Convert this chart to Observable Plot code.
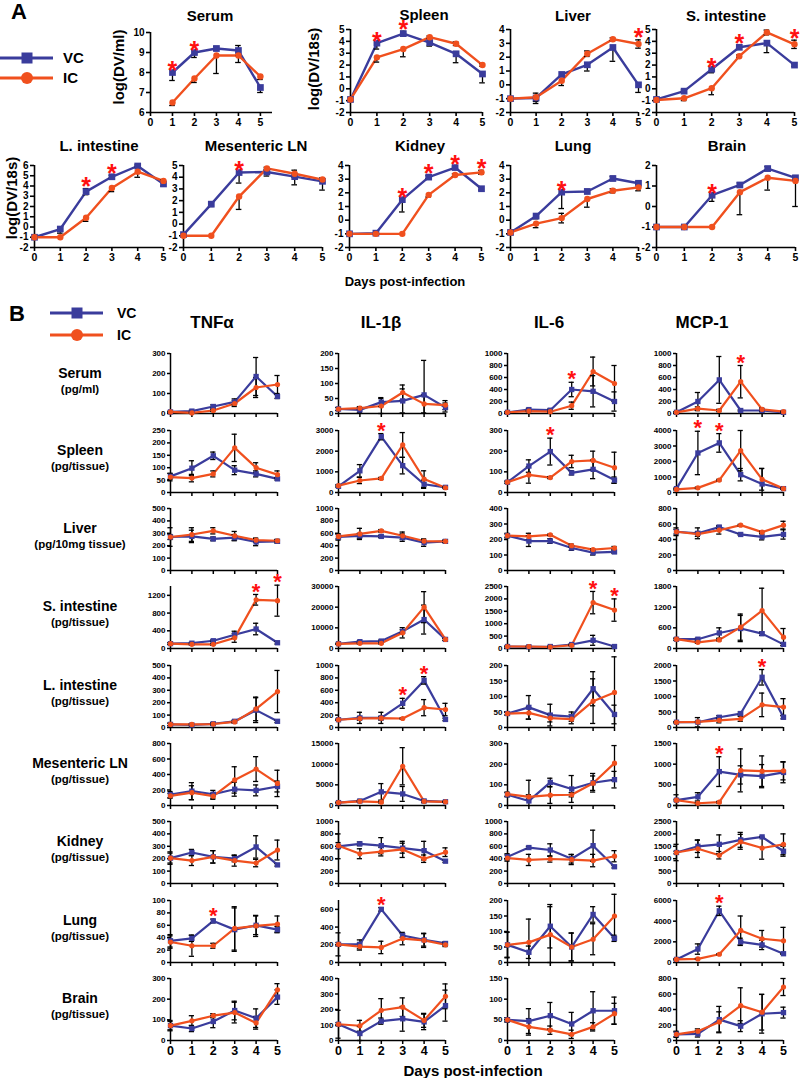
<!DOCTYPE html>
<html><head><meta charset="utf-8">
<script src="https://cdn.jsdelivr.net/npm/d3@7"></script>
<script src="https://cdn.jsdelivr.net/npm/@observablehq/plot@0.6"></script>
<style>
body{margin:0;background:#fff;}
#root{position:relative;width:800px;height:1078px;overflow:hidden;font-family:"Liberation Sans",Arial,Helvetica,sans-serif;font-weight:bold;color:#000;background:#fff;}
.lbl{position:absolute;white-space:nowrap;transform:translate(-50%,-50%);line-height:1;}
</style></head><body><div id="root"></div><script>
// ---------------- DATA ----------------
const days = [0, 1, 2, 3, 4, 5];
const series = ["VC", "IC"];

// Panel A: viral load (log DV)
const aTitles = ["Serum", "Spleen", "Liver", "S. intestine", "L. intestine", "Mesenteric LN", "Kidney", "Lung", "Brain"];
const aYDomain = [[6, 10], [-2, 5], [-2, 4], [-2, 5], [-2, 6], [-2, 5], [-2, 4], [-2, 4], [-2, 2]];
const aVC = [
  [null, 8.0, 9.0, 9.2, 9.1, 7.25],
  [-0.9, 3.85, 4.65, 3.9, 2.95, 1.25],
  [-1, -0.95, 0.75, 1.45, 2.7, 0.0],
  [-0.9, -0.2, 1.65, 3.5, 3.85, 2.0],
  [-1, -0.2, 3.45, 4.9, 5.95, 4.2],
  [-0.9, 1.7, 4.4, 4.45, 4.05, 3.65],
  [-1, -0.95, 1.5, 3.15, 3.85, 2.3],
  [-0.9, 0.3, 2.05, 2.1, 3.05, 2.7],
  [-1, -1, 0.55, 1.05, 1.85, 1.4]
];
// error: positive = both directions, negative = downward only
const aVCerr = [
  [0, -0.4, -0.25, 0.1, 0.25, -0.25],
  [0, -0.5, 0.2, -0.3, -0.75, -0.75],
  [0, -0.4, 0, -0.45, -1.0, -0.55],
  [0, 0.1, -0.3, 0.15, -0.8, 0.1],
  [0, -0.4, 0.3, 0.15, 0.1, -0.2],
  [0, -0.2, -0.9, -0.35, -0.7, -0.75],
  [0, 0, -0.9, 0.1, 0.1, 0.1],
  [0, -0.2, -1.2, 0.15, 0.15, 0.1],
  [0, 0, -0.3, 0.1, 0.1, 0.1]
];
const aIC = [
  [null, 6.5, 7.7, 8.85, 8.85, 7.8],
  [-0.9, 2.65, 3.35, 4.35, 3.8, 2.0],
  [-1, -0.9, 0.3, 2.25, 3.3, 2.95],
  [-0.95, -0.8, 0.05, 2.75, 4.75, 3.75],
  [-1, -1, 0.9, 3.8, 5.4, 4.5],
  [-1, -1, 2.35, 4.75, 4.3, 3.8],
  [-1, -1, -1, 1.85, 3.3, 3.5],
  [-0.9, -0.25, 0.15, 1.55, 2.15, 2.4],
  [-1, -1, -1, 0.7, 1.4, 1.25]
];
const aICerr = [
  [0, -0.15, -0.2, -0.9, -0.35, -0.15],
  [0, -0.4, -0.65, 0.1, 0.15, 0.1],
  [0, 0.3, -0.35, 0.2, 0.1, 0.3],
  [0, -0.2, -0.55, 0.1, 0.2, 0.35],
  [0, 0, -0.35, -0.35, -0.55, 0.1],
  [0, 0, -1.1, 0.1, 0.3, 0.15],
  [0, 0, 0, -0.15, 0.1, 0.15],
  [0, -0.3, 0.35, -0.6, 0.15, -0.25],
  [0, 0, 0, -1.1, -0.6, -1.25]
];
const aStars = [[1, 2], [1, 2], [5], [2, 3, 5], [2, 3], [2], [2, 3, 4, 5], [2], [2]];

// Panel B: cytokines
const bCols = ["TNFα", "IL-1β", "IL-6", "MCP-1"];
const bRows = ["Serum", "Spleen", "Liver", "S. intestine", "L. intestine", "Mesenteric LN", "Kidney", "Lung", "Brain"];
const bUnits = ["(pg/ml)", "(pg/tissue)", "(pg/10mg tissue)", "(pg/tissue)", "(pg/tissue)", "(pg/tissue)", "(pg/tissue)", "(pg/tissue)", "(pg/tissue)"];

const tnfMax = [300, 250, 500, 1400, 500, 800, 500, 100, 300];
const tnfStep = [100, 50, 100, 400, 100, 200, 100, 20, 100];
const tnfVC = [
  [8, 12, 35, 58, 185, 85], [65, 98, 148, 90, 75, 55], [270, 275, 255, 265, 230, 235],
  [110, 120, 175, 310, 440, 130], [25, 20, 30, 50, 140, 50], [140, 185, 145, 210, 195, 245],
  [205, 250, 215, 200, 295, 150], [35, 39, 67, 53, 60, 53], [72, 58, 92, 145, 108, 210]
];
const tnfVCerr = [
  [3, 5, 8, 15, 95, 10], [12, 30, 15, 18, 12, 5], [75, 50, 15, 25, 30, 15],
  [20, 20, 20, 80, 130, 30], [10, 10, 10, 10, 100, 10], [40, 110, 50, 90, 70, 70],
  [50, 25, 50, 25, 90, 10], [10, 5, 3, 35, 15, 5], [25, 15, 30, 45, 45, 35]
];
const tnfIC = [
  [8, 3, 15, 50, 130, 145], [62, 58, 75, 180, 100, 72], [270, 290, 320, 280, 245, 240],
  [110, 95, 95, 240, 1100, 1080], [25, 25, 28, 45, 150, 290], [125, 165, 120, 330, 470, 285],
  [205, 185, 215, 185, 165, 270], [33, 27, 27, 55, 59, 62], [72, 95, 120, 135, 85, 245]
];
const tnfICerr = [
  [3, 3, 5, 15, 50, 45], [15, 15, 12, 55, 20, 15], [20, 55, 25, 35, 15, 10],
  [20, 20, 20, 100, 120, 350], [10, 5, 5, 10, 95, 170], [30, 90, 40, 170, 160, 170],
  [40, 40, 50, 45, 30, 80], [10, 17, 4, 35, 17, 13], [20, 25, 10, 50, 30, 30]
];
const tnfStars = [[], [], [], [4, 5], [], [], [], [2], []];

const il1Max = [200, 3000, 1000, 30000, 1000, 15000, 1000, 700, 400];
const il1Step = [50, 1000, 200, 10000, 200, 5000, 200, 200, 100];
const il1VC = [
  [15, 12, 38, 42, 62, 20], [300, 1050, 2700, 1300, 400, 250], [540, 560, 550, 530, 450, 470],
  [2300, 3300, 3600, 8300, 14000, 4400], [125, 155, 155, 390, 760, 130], [700, 1100, 3300, 2800, 1100, 900],
  [600, 640, 610, 570, 530, 360], [205, 205, 600, 305, 255, 215], [105, 45, 125, 140, 120, 225]
];
const il1VCerr = [
  [5, 8, 15, 40, 115, 15], [50, 300, 150, 400, 200, 30], [50, 40, 20, 60, 60, 20],
  [300, 500, 500, 800, 7000, 500], [10, 90, 90, 80, 60, 20], [100, 200, 2000, 1800, 200, 100],
  [200, 30, 130, 80, 150, 20], [130, 50, 20, 20, 70, 20], [90, 45, 20, 80, 50, 100]
];
const il1IC = [
  [15, 18, 25, 70, 32, 28], [330, 580, 680, 2300, 650, 230], [550, 590, 640, 560, 475, 470],
  [2200, 2500, 2500, 7600, 20000, 4400], [125, 145, 150, 145, 320, 290], [700, 1000, 800, 9500, 1000, 900],
  [610, 480, 515, 550, 400, 505], [205, 180, 170, 270, 250, 200], [105, 95, 195, 215, 130, 285]
];
const il1ICerr = [
  [5, 5, 25, 25, 30, 15], [50, 150, 50, 600, 400, 30], [40, 90, 20, 60, 20, 20],
  [200, 300, 300, 2500, 7500, 500], [10, 30, 30, 10, 130, 100], [100, 100, 200, 4500, 300, 100],
  [50, 80, 70, 130, 60, 70], [20, 40, 70, 70, 80, 20], [10, 35, 75, 60, 45, 80]
];
const il1Stars = [[], [2], [], [], [3, 4], [], [], [2], []];

const il6Max = [1000, 300, 400, 2500, 200, 300, 1000, 200, 150];
const il6Step = [200, 100, 100, 500, 50, 100, 200, 50, 50];
const il6VC = [
  [20, 65, 55, 400, 370, 200], [50, 128, 198, 95, 112, 60], [225, 190, 190, 145, 115, 120],
  [80, 70, 80, 160, 330, 80], [45, 65, 40, 35, 125, 42], [52, 22, 112, 80, 110, 125],
  [430, 580, 540, 400, 610, 270], [57, 33, 117, 50, 155, 78], [50, 47, 60, 40, 72, 72]
];
const il6VCerr = [
  [10, 20, 20, 120, 260, 160], [5, 30, 65, 10, 45, 15], [15, 35, 15, 15, 15, 10],
  [20, 20, 20, 30, 200, 20], [5, 38, 35, 15, 55, 30], [10, 100, 20, 65, 45, 40],
  [50, 20, 100, 70, 250, 20], [42, 20, 70, 45, 25, 10], [5, 30, 32, 28, 46, 33]
];
const il6IC = [
  [20, 40, 30, 130, 700, 500], [50, 85, 72, 150, 155, 120], [225, 220, 230, 160, 135, 145],
  [80, 80, 60, 130, 1850, 1550], [45, 47, 30, 27, 85, 113], [55, 42, 50, 52, 108, 205],
  [410, 380, 395, 385, 370, 440], [57, 65, 90, 50, 75, 150], [50, 33, 25, 15, 33, 65]
];
const il6ICerr = [
  [10, 10, 10, 60, 240, 300], [5, 40, 5, 30, 45, 75], [10, 20, 5, 10, 5, 10],
  [20, 20, 20, 30, 450, 450], [5, 20, 12, 15, 72, 115], [10, 10, 40, 10, 35, 85],
  [50, 90, 50, 80, 100, 90], [40, 75, 90, 45, 50, 70], [5, 20, 10, 10, 10, 25]
];
const il6Stars = [[3], [2], [], [4, 5], [], [], [], [], []];

const mcpMax = [1000, 4000, 800, 1800, 2000, 1500, 2500, 6000, 800];
const mcpStep = [200, 1000, 200, 600, 500, 500, 500, 2000, 200];
const mcpVC = [
  [20, 200, 560, 50, 50, 20], [250, 2550, 3200, 1150, 550, 250], [500, 480, 560, 465, 435, 465],
  [270, 270, 450, 580, 430, 120], [170, 170, 330, 450, 1620, 330], [130, 210, 820, 740, 710, 800],
  [1250, 1500, 1580, 1760, 1880, 1300], [300, 1300, 5000, 2000, 1700, 850], [80, 85, 270, 185, 345, 360]
];
const mcpVCerr = [
  [10, 150, 390, 10, 20, 10], [50, 1400, 600, 400, 1000, 50], [50, 70, 20, 10, 40, 60],
  [30, 30, 150, 380, 50, 30], [20, 150, 50, 50, 250, 50], [130, 100, 360, 220, 280, 250],
  [330, 250, 380, 300, 20, 200], [50, 500, 450, 350, 450, 50], [40, 40, 170, 70, 250, 70]
];
const mcpIC = [
  [20, 80, 50, 530, 70, 30], [200, 300, 800, 2700, 850, 250], [500, 470, 520, 585, 495, 585],
  [270, 180, 250, 620, 1100, 330], [170, 180, 230, 280, 730, 660], [130, 55, 80, 850, 830, 840],
  [1250, 1400, 1140, 1680, 1430, 1580], [300, 350, 800, 3100, 2300, 2100], [80, 120, 240, 450, 365, 690]
];
const mcpICerr = [
  [10, 30, 20, 270, 20, 10], [50, 50, 50, 1300, 700, 50], [30, 30, 50, 10, 10, 50],
  [30, 30, 30, 380, 650, 250], [20, 20, 80, 80, 380, 270], [20, 20, 20, 520, 370, 220],
  [50, 350, 150, 300, 450, 420], [50, 50, 50, 1400, 800, 1300], [30, 30, 130, 230, 230, 110]
];
const mcpStars = [[3], [1, 2], [], [], [4], [2], [], [2], []];

// ---------------- DRAWING ----------------
const VC_COLOR = "#3A3C9C";
const IC_COLOR = "#F0501E";
const FONT = '"Liberation Sans", Arial, Helvetica, sans-serif';
const root = document.getElementById("root");

function addText(txt, x, y, size, opts = {}) {
  const el = document.createElement("div");
  el.className = "lbl";
  el.textContent = txt;
  el.style.left = x + "px";
  el.style.top = y + "px";
  el.style.fontSize = size + "px";
  if (opts.rotate) el.style.transform = `translate(-50%,-50%) rotate(${opts.rotate}deg)`;
  if (opts.color) el.style.color = opts.color;
  root.appendChild(el);
}

function addLegend(x, y, x1, x2, cx, sq, cr, gap, textX, fs, lw) {
  const ns = "http://www.w3.org/2000/svg";
  const svg = document.createElementNS(ns, "svg");
  svg.setAttribute("width", 200); svg.setAttribute("height", 60);
  svg.style.position = "absolute"; svg.style.left = x + "px"; svg.style.top = y + "px";
  svg.style.overflow = "visible";
  const items = [{name: series[0], color: VC_COLOR, shape: "sq", dy: 0}, {name: series[1], color: IC_COLOR, shape: "c", dy: gap}];
  for (const it of items) {
    const l = document.createElementNS(ns, "line");
    l.setAttribute("x1", x1); l.setAttribute("x2", x2); l.setAttribute("y1", it.dy); l.setAttribute("y2", it.dy);
    l.setAttribute("stroke", it.color); l.setAttribute("stroke-width", lw);
    svg.appendChild(l);
    let m;
    if (it.shape === "sq") {
      m = document.createElementNS(ns, "rect");
      m.setAttribute("x", cx - sq / 2); m.setAttribute("y", it.dy - sq / 2);
      m.setAttribute("width", sq); m.setAttribute("height", sq);
    } else {
      m = document.createElementNS(ns, "circle");
      m.setAttribute("cx", cx); m.setAttribute("cy", it.dy); m.setAttribute("r", cr);
    }
    m.setAttribute("fill", it.color);
    svg.appendChild(m);
    const t = document.createElementNS(ns, "text");
    t.setAttribute("x", textX); t.setAttribute("y", it.dy); t.setAttribute("dy", "0.36em");
    t.setAttribute("font-size", fs); t.setAttribute("font-weight", "bold"); t.setAttribute("font-family", FONT);
    t.textContent = it.name;
    svg.appendChild(t);
  }
  root.appendChild(svg);
}

function panel(o) {
  const ML = 45, MR = 12, MT = 30, MB = 24;
  const w = o.right - o.left, h = o.bottom - o.top;
  const [x0, x1] = o.xDomain, [y0, y1] = o.yDomain;
  const cap = o.capPx / (w / (x1 - x0));
  const rows = [];
  days.forEach((d, i) => {
    if (o.vc[i] != null) rows.push({day: d, s: "VC", v: o.vc[i], e: o.vcErr[i]});
    if (o.ic[i] != null) rows.push({day: d, s: "IC", v: o.ic[i], e: o.icErr[i]});
  });
  const eb = rows.filter(r => r.e !== 0).map(r => {
    const lo = r.v - Math.abs(r.e);
    return {day: r.day, lo: Math.max(y0, lo), hi: r.e > 0 ? r.v + r.e : r.v, capLo: lo >= y0, capHi: r.e > 0};
  });
  const starRows = o.stars.map(d => {
    const tops = rows.filter(r => r.day === d).map(r => r.v + (r.e > 0 ? r.e : 0));
    return {day: d, top: Math.max(...tops)};
  });
  const ticks = d3.range(y0, y1 + 1e-9, o.yStep);
  const plot = Plot.plot({
    width: ML + w + MR, height: MT + h + MB,
    marginLeft: ML, marginRight: MR, marginTop: MT, marginBottom: MB,
    x: {domain: [x0, x1]},
    y: {domain: [y0, y1]},
    style: {fontFamily: FONT, fontWeight: "bold", color: "#000", background: "transparent", overflow: "visible"},
    marks: [
      Plot.axisX({ticks: days, tickSize: 4, tickPadding: 2, tickFormat: o.xLabels ? (d => String(d)) : (() => ""), fontSize: o.xFont, label: null, strokeWidth: o.axisW}),
      Plot.axisY({ticks, tickSize: o.yTickSize, tickPadding: 2, tickFormat: d => String(d), fontSize: o.yFont, label: null, strokeWidth: o.axisW}),
      Plot.ruleY([y0], {stroke: "#000", strokeWidth: o.axisW}),
      Plot.ruleX([x0], {stroke: "#000", strokeWidth: o.axisW}),
      Plot.line(rows.filter(r => r.s === "VC"), {x: "day", y: "v", stroke: VC_COLOR, strokeWidth: o.lineW}),
      Plot.line(rows.filter(r => r.s === "IC"), {x: "day", y: "v", stroke: IC_COLOR, strokeWidth: o.lineW}),
      Plot.ruleX(eb, {x: "day", y1: "lo", y2: "hi", stroke: "#000", strokeWidth: 1.3}),
      Plot.ruleY(eb.filter(r => r.capHi), {y: "hi", x1: r => r.day - cap, x2: r => r.day + cap, stroke: "#000", strokeWidth: 1.3}),
      Plot.ruleY(eb.filter(r => r.capLo), {y: "lo", x1: r => r.day - cap, x2: r => r.day + cap, stroke: "#000", strokeWidth: 1.3}),
      Plot.dot(rows.filter(r => r.s === "VC"), {x: "day", y: "v", symbol: "square", r: o.sqR, fill: VC_COLOR}),
      Plot.dot(rows.filter(r => r.s === "IC"), {x: "day", y: "v", symbol: "circle", r: o.cR, fill: IC_COLOR}),
      Plot.text(starRows, {x: "day", y: "top", text: () => "*", fill: "#FF1010", fontSize: o.starSize, fontWeight: "bold", dy: o.starDy})
    ]
  });
  plot.style.position = "absolute";
  plot.style.left = (o.left - ML) + "px";
  plot.style.top = (o.top - MT) + "px";
  root.appendChild(plot);
}

// ---------- Panel A ----------
addText("A", 19, 12, 22);
addLegend(0, 58, 0, 53, 27, 11, 6, 20, 63, 15, 3);
const aBox = [
  [150, 272, 32, 112], [350, 482, 29, 112], [510, 638, 29, 112], [656, 794, 29, 112],
  [34, 163, 165, 247], [183, 322, 165, 247], [349, 481, 165, 247], [510, 638, 165, 247], [656, 795, 165, 247]
];
const aTitlePos = [[210, 15], [424, 14], [573, 15], [726, 15], [99, 145], [256, 145], [420, 145], [573, 145], [727, 145]];
aTitles.forEach((t, i) => {
  const [l, r, tp, b] = aBox[i];
  panel({left: l, right: r, top: tp, bottom: b, xDomain: i === 0 ? [0, 5.55] : [0, 5], yDomain: aYDomain[i], yStep: 1,
    vc: aVC[i], vcErr: aVCerr[i], ic: aIC[i], icErr: aICerr[i], stars: aStars[i],
    xLabels: true, xFont: 10.5, yFont: 10, yTickSize: 4, axisW: 1.6, lineW: 2.4, sqR: 3.8, cR: 3.2,
    capPx: 2.8, starSize: 25, starDy: -1.5});
  addText(t, aTitlePos[i][0], aTitlePos[i][1], 15);
});
addText("log(DV/ml)", 118, 67, 15, {rotate: -90});
addText("log(DV/18s)", 313, 69, 15, {rotate: -90});
addText("log(DV/18s)", 11, 198, 15, {rotate: -90});
addText("Days post-infection", 405, 281, 13);

// ---------- Panel B ----------
addText("B", 17, 314, 22);
addLegend(0, 313, 50, 103, 77, 11, 6, 22, 117, 14, 3);
const bColLeft = [170, 338, 507, 676];
const bRowTop = [353, 430, 508, 586, 665, 743, 821, 900, 978];
const bRowBottom = [413, 492, 570, 648, 727, 805, 883, 962, 1040];
const bTitleX = [212, 381, 549, 702];
const bSets = [
  [tnfVC, tnfVCerr, tnfIC, tnfICerr, tnfStars, tnfMax, tnfStep],
  [il1VC, il1VCerr, il1IC, il1ICerr, il1Stars, il1Max, il1Step],
  [il6VC, il6VCerr, il6IC, il6ICerr, il6Stars, il6Max, il6Step],
  [mcpVC, mcpVCerr, mcpIC, mcpICerr, mcpStars, mcpMax, mcpStep]
];
bCols.forEach((c, ci) => addText(c, bTitleX[ci], 322, 17));
bRows.forEach((rn, ri) => {
  addText(rn, 80, bRowTop[ri] + 20, 14);
  addText(bUnits[ri], 80, bRowTop[ri] + 37, 11.5);
  bSets.forEach((s, ci) => {
    const [vc, vce, ic, ice, st, mx, stp] = s;
    panel({left: bColLeft[ci], right: bColLeft[ci] + 107, top: bRowTop[ri], bottom: bRowBottom[ri],
      xDomain: [0, 5], yDomain: [0, mx[ri]], yStep: stp[ri],
      vc: vc[ri], vcErr: vce[ri], ic: ic[ri], icErr: ice[ri], stars: st[ri],
      xLabels: ri === bRows.length - 1, xFont: 12.5, yFont: 8, yTickSize: 3, axisW: 1.5, lineW: 2.2, sqR: 3, cR: 2.6,
      capPx: 2.6, starSize: 22, starDy: -3});
  });
});
addText("Days post-infection", 473, 1070, 15);
</script></body></html>
